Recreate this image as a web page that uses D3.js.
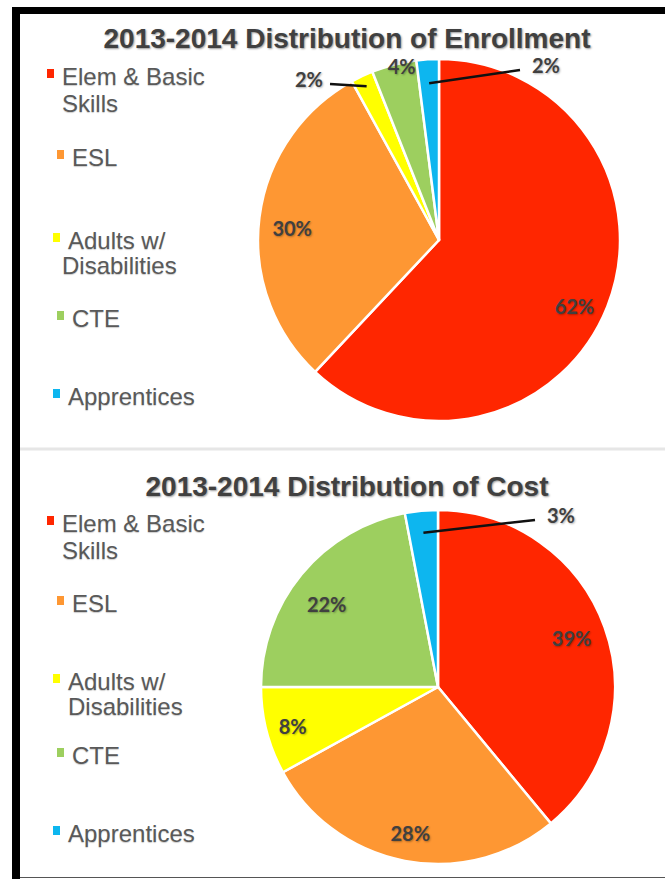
<!DOCTYPE html>
<html>
<head>
<meta charset="utf-8">
<script src="https://cdn.jsdelivr.net/npm/d3@7"></script>
<style>
  body { margin: 0; background: #fff; }
  .title { font-family: "Liberation Sans", Arial, sans-serif; font-weight: bold; font-size: 28px; fill: #404040; text-shadow: 1px 1px 2px rgba(0,0,0,0.4); }
  .legend text { font-family: "Liberation Sans", Arial, sans-serif; font-size: 24px; fill: #595959; text-shadow: 0px 1px 1px rgba(0,0,0,0.2); }
  .pct { font-family: Lato, "Open Sans", sans-serif; font-weight: bold; font-size: 20px; fill: #404040; text-shadow: 1px 1px 2px rgba(0,0,0,0.3); }
</style>
</head>
<body>
<div id="chart"></div>
<script>
// Data
var legendLines = [["Elem & Basic", "Skills"], ["ESL"], ["Adults w/", "Disabilities"], ["CTE"], ["Apprentices"]];
var colors = ["#ff2600", "#fe9733", "#ffff00", "#9dcf5f", "#0db6ef"];
var enrollmentPct = [62, 30, 2, 4, 2];
var costPct = [39, 28, 8, 22, 3];

const width = 665;
const height = 879;

const svg = d3.select("#chart")
  .append("svg")
  .attr("width", width)
  .attr("height", height);

// Frame
svg.append("rect").attr("x", 12).attr("y", 7).attr("width", width - 12).attr("height", 7).attr("fill", "#000");
svg.append("rect").attr("x", 12).attr("y", 7).attr("width", 8).attr("height", height - 7).attr("fill", "#000");
svg.append("line").attr("x1", 20).attr("x2", width).attr("y1", 877.5).attr("y2", 877.5).attr("stroke", "#555").attr("stroke-width", 1);

// Separator between the two charts
svg.append("line").attr("x1", 20).attr("x2", width).attr("y1", 449).attr("y2", 449)
  .attr("stroke", "#e6e6e6").attr("stroke-width", 3);

// Chart layout
var charts = [
  {
    title: "2013-2014 Distribution of Enrollment",
    values: enrollmentPct,
    titleY: 48,
    cx: 439, cy: 240, r: 181,
    legendY: [85, 166, 249, 327, 405],
    legendX: [[62, 62], [72], [68, 62], [72], [68]],
    lineGap: [27, 0, 25, 0, 0],
    inside: [{ i: 0, r: 150, dx: -4, dy: 12 }, { i: 1, r: 148, dx: 0, dy: 8 }, { i: 3, r: 178, dx: 7, dy: -1 }],
    callouts: [
      { i: 2, r: 170, end: [330, 84], anchor: "end" },
      { i: 4, r: 157, end: [520, 70], anchor: "start" }
    ]
  },
  {
    title: "2013-2014 Distribution of Cost",
    values: costPct,
    titleY: 496,
    cx: 438, cy: 687, r: 177,
    legendY: [532, 612, 690, 764, 842],
    legendX: [[62, 62], [72], [68, 68], [72], [68]],
    lineGap: [27, 0, 25, 0, 0],
    inside: [{ i: 0, r: 142, dx: 0, dy: 0 }, { i: 1, r: 148, dx: 0, dy: 2 }, { i: 2, r: 150, dx: 0, dy: 3 }, { i: 3, r: 138, dx: -5, dy: 6 }],
    callouts: [
      { i: 4, r: 155, end: [535, 520], anchor: "start" }
    ]
  }
];

const pie = d3.pie().sort(null).value(d => d);

charts.forEach(function (c) {
  var g = svg.append("g");

  // Title
  g.append("text")
    .attr("class", "title")
    .attr("x", 347)
    .attr("y", c.titleY)
    .attr("text-anchor", "middle")
    .text(c.title);

  // Pie
  var arcs = pie(c.values);
  var arc = d3.arc().innerRadius(0).outerRadius(c.r);
  var pieG = g.append("g").attr("transform", "translate(" + c.cx + "," + c.cy + ")");
  pieG.selectAll("path")
    .data(arcs)
    .join("path")
    .attr("d", arc)
    .attr("fill", (d, i) => colors[i])
    .attr("stroke", "#fff")
    .attr("stroke-width", 2.5)
    .attr("stroke-linejoin", "round");

  // Labels inside / next to the slices
  c.inside.forEach(function (l) {
    var a = arcs[l.i];
    var ang = (a.startAngle + a.endAngle) / 2;
    pieG.append("text")
      .attr("class", "pct")
      .attr("x", l.r * Math.sin(ang) + l.dx)
      .attr("y", -l.r * Math.cos(ang) + l.dy)
      .attr("text-anchor", "middle")
      .attr("dy", "0.35em")
      .text(c.values[l.i] + "%");
  });

  // Callout labels with leader lines
  c.callouts.forEach(function (l) {
    var a = arcs[l.i];
    var ang = (a.startAngle + a.endAngle) / 2;
    var sx = c.cx + l.r * Math.sin(ang);
    var sy = c.cy - l.r * Math.cos(ang);
    g.append("line")
      .attr("x1", sx).attr("y1", sy)
      .attr("x2", l.end[0]).attr("y2", l.end[1])
      .attr("stroke", "#111")
      .attr("stroke-width", 2.5);
    g.append("text")
      .attr("class", "pct")
      .attr("x", l.anchor == "end" ? l.end[0] - 7 : l.end[0] + 12)
      .attr("y", l.end[1] - 4)
      .attr("text-anchor", l.anchor)
      .attr("dy", "0.35em")
      .text(c.values[l.i] + "%");
  });

  // Legend
  var legend = g.append("g").attr("class", "legend");
  legendLines.forEach(function (lines, i) {
    var y0 = c.legendY[i];
    legend.append("rect")
      .attr("x", c.legendX[i][0] - 15)
      .attr("y", y0 - 16)
      .attr("width", 7)
      .attr("height", 9)
      .attr("fill", colors[i]);
    lines.forEach(function (t, j) {
      legend.append("text")
        .attr("x", c.legendX[i][j])
        .attr("y", y0 + j * c.lineGap[i])
        .text(t);
    });
  });
});
</script>
</body>
</html>
